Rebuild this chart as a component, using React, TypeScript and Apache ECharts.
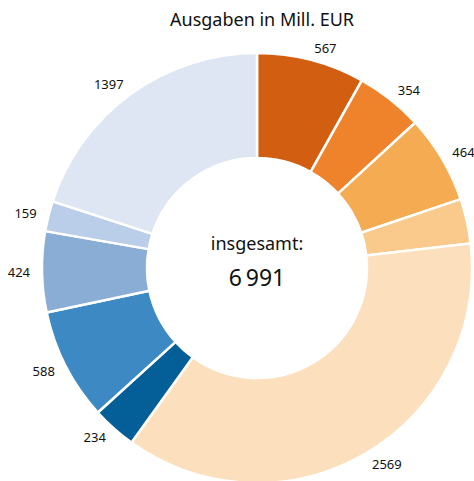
import React, { useEffect, useRef } from "react";
import * as echarts from "echarts";

const categories = ["A1", "A2", "A3", "A4", "A5", "B1", "B2", "B3", "B4", "B5"];
const values = [567, 354, 464, 235, 2569, 234, 588, 424, 159, 1397];
const colors = [
  "#d25e12", "#ee832b", "#f5ab52", "#fac98c", "#fcdfbc",
  "#045e97", "#3d89c4", "#8aadd6", "#bacde9", "#dfe6f3",
];
const titleText = "Ausgaben in Mill. EUR";
const centerLabel = "insgesamt:";
const totalText = "6\u202f991";

const FONT = "'Noto Sans', sans-serif";

export default function App() {
  const ref = useRef<HTMLDivElement>(null);
  useEffect(() => {
    document.body.style.margin = "0";
    const chart = echarts.init(ref.current!, null, { renderer: "svg" });
    chart.setOption({
      animation: false,
      title: {
        text: titleText,
        left: 257,
        top: 5,
        textAlign: "center",
        textStyle: { fontFamily: FONT, fontSize: 18, fontWeight: "normal", color: "#111" },
      },
      graphic: [
        {
          type: "text",
          x: 257,
          y: 243,
          style: {
            text: centerLabel,
            fontFamily: FONT,
            fontSize: 18,
            fill: "#111",
            textAlign: "center",
            textVerticalAlign: "middle",
          },
        },
        {
          type: "text",
          x: 257,
          y: 277,
          style: {
            text: totalText,
            fontFamily: FONT,
            fontSize: 23,
            fill: "#111",
            textAlign: "center",
            textVerticalAlign: "middle",
          },
        },
      ],
      series: [
        {
          type: "pie",
          center: [257, 268],
          radius: [110, 215],
          startAngle: 90,
          clockwise: true,
          avoidLabelOverlap: false,
          itemStyle: { borderColor: "#fff", borderWidth: 2.5 },
          label: {
            show: true,
            position: "outside",
            formatter: "{c}",
            fontFamily: FONT,
            fontSize: 13,
            color: "#111",
            distanceToLabelLine: 0,
          },
          labelLine: { show: false, length: 12, length2: 0 },
          emphasis: { disabled: true },
          data: categories.map((c, i) => ({
            name: c,
            value: values[i],
            itemStyle: { color: colors[i] },
          })),
        },
      ],
    });
    return () => chart.dispose();
  }, []);
  return <div ref={ref} style={{ width: 474, height: 481 }} />;
}
